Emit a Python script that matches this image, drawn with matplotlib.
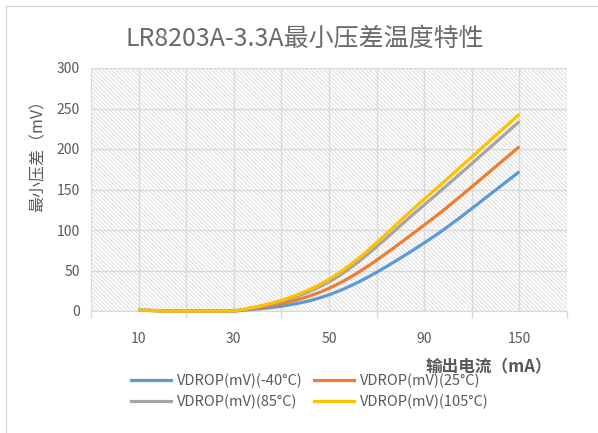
import numpy as np
import matplotlib
matplotlib.use('Agg')
import matplotlib.pyplot as plt
from matplotlib.patches import Rectangle
from matplotlib.lines import Line2D

plt.rcParams['font.family'] = ['Noto Sans CJK SC', 'DejaVu Sans']
plt.rcParams['hatch.linewidth'] = 0.7

# data
categories = ['10', '30', '50', '90', '150']
series_names = ['VDROP(mV)(-40°C)', 'VDROP(mV)(25°C)', 'VDROP(mV)(85°C)', 'VDROP(mV)(105°C)']
vdrop_m40 = [1, 0, 20, 84, 172]
vdrop_25 = [1, 0, 28, 106, 203]
vdrop_85 = [1, 0, 36, 131, 234]
vdrop_105 = [1, 0, 39, 138, 243]
series_vals = [vdrop_m40, vdrop_25, vdrop_85, vdrop_105]
line_colors = ['#5B9BD5', '#ED7D31', '#A5A5A5', '#FFC000']

GRID = '#d9d9d9'
TXT = '#595959'


def smooth(y, n=40):
    # Catmull-Rom style smoothing like Excel's "smoothed line"
    y = np.asarray(y, float)
    p = np.concatenate([[2 * y[0] - y[1]], y, [2 * y[-1] - y[-2]]])
    xs, ys = [], []
    for i in range(len(y) - 1):
        p0, p1, p2, p3 = p[i], p[i + 1], p[i + 2], p[i + 3]
        m1 = (p2 - p0) / 2
        m2 = (p3 - p1) / 2
        t = np.linspace(0, 1, n, endpoint=(i == len(y) - 2))
        h00 = 2 * t**3 - 3 * t**2 + 1
        h10 = t**3 - 2 * t**2 + t
        h01 = -2 * t**3 + 3 * t**2
        h11 = t**3 - t**2
        xs.append(i + t)
        ys.append(h00 * p1 + h10 * m1 + h01 * p2 + h11 * m2)
    return np.concatenate(xs), np.concatenate(ys)


fig = plt.figure(figsize=(5.98, 4.33), dpi=100)
ax = fig.add_axes([91 / 598, 1 - 311 / 433, 476 / 598, 243 / 433])

# hatched plot area
ax.patch.set_facecolor('none')
ax.add_patch(Rectangle((0, 0), 1, 1, transform=ax.transAxes, facecolor='white',
                       edgecolor='#dcdcdc', hatch='\\' * 8, lw=0, zorder=0))

x = np.arange(len(categories))
for vals, c, name in zip(series_vals, line_colors, series_names):
    xs, ys = smooth(vals)
    ax.plot(xs, np.maximum(ys, 0), color=c, lw=2.3, solid_capstyle='butt',
            clip_on=False, zorder=3, label=name)

ax.set_xlim(-0.5, len(categories) - 0.5)
ax.set_ylim(0, 300)
ax.set_yticks(np.arange(0, 301, 50))
ax.set_xticks(np.arange(-0.5, len(categories), 1.0))
ax.set_xticklabels([])
ax.set_xticks(x, minor=True)
ax.set_xticklabels(categories, minor=True)
ax.tick_params(axis='x', which='major', length=5, width=1, color=GRID, direction='out')
ax.tick_params(axis='x', which='minor', length=0, pad=15, labelsize=10, labelcolor=TXT)
ax.tick_params(axis='y', length=0, pad=8, labelsize=10, labelcolor=TXT)
ax.set_axisbelow(True)
ax.grid(True, which='both', axis='x', color=GRID, lw=1)
ax.grid(True, axis='y', color=GRID, lw=1)
for s in ['top', 'right', 'left']:
    ax.spines[s].set_visible(False)
ax.spines['bottom'].set_color(GRID)

fig.text(305 / 598, 1 - 39 / 433, 'LR8203A-3.3A最小压差温度特性', ha='center', va='center',
         fontsize=18, color='#6a6a6a', fontweight='light')
fig.text(38 / 598, 1 - 152 / 433, '最小压差（mV）', rotation=90, ha='center', va='center',
         fontsize=11.5, color=TXT)
fig.text(489 / 598, 1 - 367 / 433, '输出电流（mA）', ha='center', va='center',
         fontsize=12, color=TXT, fontweight='bold')

# legend filled row by row like the original
order = [0, 2, 1, 3]
handles = [Line2D([], [], color=line_colors[i], lw=2.3) for i in order]
labels = [series_names[i] for i in order]
fig.legend(handles, labels, ncol=2, loc='center', bbox_to_anchor=(310 / 598, 1 - 391 / 433),
           frameon=False, fontsize=10.5, handlelength=2.75, handletextpad=0.4,
           columnspacing=0.75, labelspacing=0.45, labelcolor=TXT)

# chart border
fig.add_artist(Line2D([6 / 598, 1], [1 - 6 / 433, 1 - 6 / 433], color=GRID, lw=1))
fig.add_artist(Line2D([6 / 598, 6 / 598], [0, 1 - 6 / 433], color=GRID, lw=1))

plt.savefig('out.png', dpi=100)
